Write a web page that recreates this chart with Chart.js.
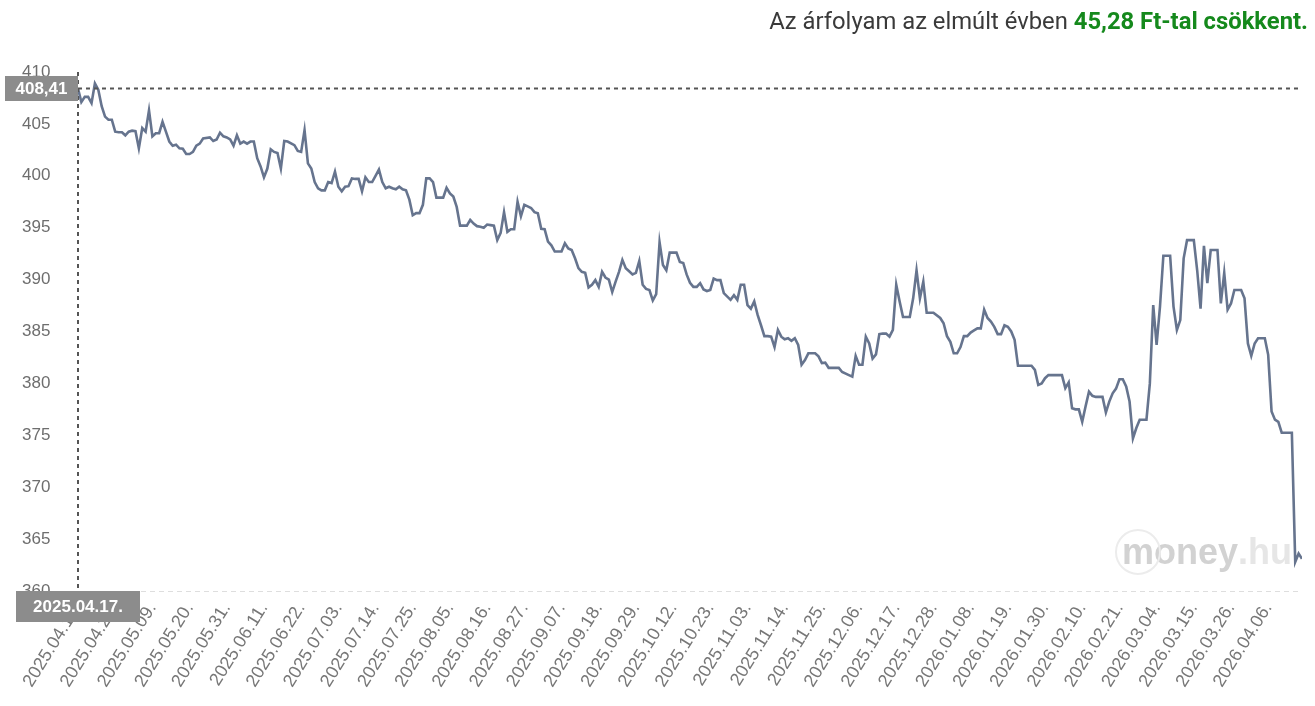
<!DOCTYPE html>
<html>
<head>
<meta charset="utf-8">
<title>Árfolyam az elmúlt évben</title>
<style>
  body { margin: 0; background: #fff; font-family: Roboto, Arial, sans-serif; }
  #wrap { position: relative; width: 1315px; height: 706px; }
  #summary { position: absolute; top: 7px; right: 7px; font-size: 23.8px; color: #3a3a3a; white-space: nowrap; }
  #summary b { color: #15891c; }
  canvas { display: block; }
</style>
</head>
<body>
<div id="wrap">
  <div id="summary">Az árfolyam az elmúlt évben <b>45,28 Ft-tal csökkent.</b></div>
  <canvas id="rateChart" width="1315" height="706"></canvas>
</div>

<script src="https://cdn.jsdelivr.net/npm/chart.js"></script>

<script>
    // day index from 2025.04.17 and the rate
    const days = [
        0, 1, 2, 3, 4, 5, 6, 7, 8, 9, 10, 11, 12, 13, 14, 15, 16, 17, 18, 19,
        20, 21, 22, 23, 24, 25, 26, 27, 28, 29, 30, 31, 32, 33, 34, 35, 36, 37, 39, 40,
        41, 42, 43, 44, 45, 46, 47, 48, 49, 50, 51, 52, 53, 54, 55, 56, 57, 58, 59, 60,
        61, 62, 64, 65, 66, 67, 68, 69, 70, 71, 72, 73, 74, 75, 76, 77, 78, 79, 80, 81,
        82, 83, 84, 85, 86, 87, 88, 89, 90, 91, 92, 93, 94, 95, 96, 97, 98, 99, 100, 101,
        102, 103, 104, 105, 106, 107, 108, 109, 110, 111, 112, 113, 114, 115, 116, 117, 118, 119, 120, 121,
        122, 123, 124, 125, 126, 127, 128, 129, 130, 131, 132, 133, 134, 135, 136, 137, 138, 139, 140, 141,
        142, 143, 144, 145, 146, 147, 148, 149, 150, 151, 152, 153, 154, 155, 156, 157, 158, 159, 160, 161,
        162, 163, 164, 165, 166, 167, 168, 169, 170, 171, 172, 173, 174, 175, 176, 177, 178, 179, 180, 181,
        182, 183, 184, 185, 186, 187, 188, 189, 190, 191, 193, 194, 195, 196, 197, 198, 199, 200, 201, 202,
        203, 204, 205, 206, 207, 208, 209, 210, 211, 212, 213, 214, 215, 216, 217, 218, 219, 220, 221, 222,
        223, 224, 225, 226, 228, 229, 230, 231, 232, 233, 234, 235, 236, 237, 238, 239, 240, 241, 242, 243,
        244, 245, 246, 247, 248, 249, 250, 251, 252, 253, 255, 256, 257, 258, 259, 260, 261, 262, 263, 264,
        265, 266, 267, 268, 269, 270, 271, 272, 273, 274, 275, 276, 277, 278, 279, 280, 281, 282, 283, 284,
        285, 286, 287, 288, 289, 290, 291, 292, 293, 294, 295, 296, 297, 298, 299, 300, 301, 302, 303, 304,
        305, 306, 307, 308, 309, 310, 311, 312, 313, 314, 315, 316, 317, 318, 319, 320, 321, 322, 323, 324,
        325, 326, 327, 328, 329, 330, 331, 332, 333, 334, 335, 336, 337, 338, 339, 340, 341, 342, 343, 344,
        345, 346, 347, 348, 349, 350, 351, 352, 353, 354, 355, 356, 357, 358, 359, 360, 361, 362
    ];

    const rates = [
        408.41, 407.1, 407.6, 407.6, 407.0, 408.9, 408.3, 406.7, 405.7, 405.4, 405.4, 404.25, 404.2, 404.2, 403.9, 404.25, 404.35, 404.3, 402.65, 404.6,
        404.25, 406.3, 403.8, 404.1, 404.1, 405.2, 404.25, 403.3, 402.9, 403.0, 402.65, 402.6, 402.1, 402.1, 402.3, 402.9, 403.1, 403.6, 403.7, 403.35,
        403.5, 404.15, 403.8, 403.7, 403.5, 402.9, 403.9, 403.1, 403.3, 403.1, 403.3, 403.3, 401.7, 400.9, 399.85, 400.7, 402.55, 402.3, 402.2, 400.7,
        403.35, 403.3, 402.95, 402.4, 402.3, 404.4, 401.2, 400.7, 399.4, 398.8, 398.6, 398.6, 399.4, 399.3, 400.4, 398.95, 398.5, 398.95, 399.0, 399.75,
        399.7, 399.7, 398.5, 399.85, 399.4, 399.4, 400.0, 400.6, 399.4, 398.8, 398.95, 398.8, 398.7, 398.95, 398.7, 398.6, 397.7, 396.2, 396.4, 396.4,
        397.2, 399.75, 399.75, 399.4, 397.9, 397.9, 397.9, 398.85, 398.3, 398.0, 397.0, 395.2, 395.2, 395.2, 395.75, 395.4, 395.15, 395.1, 395.0, 395.3,
        395.25, 395.2, 393.8, 394.5, 396.5, 394.6, 394.85, 394.85, 397.5, 396.1, 397.2, 397.05, 396.9, 396.5, 396.4, 394.9, 394.85, 393.65, 393.3, 392.7,
        392.7, 392.7, 393.5, 393.0, 392.85, 392.05, 391.1, 390.75, 390.65, 389.25, 389.5, 389.95, 389.3, 390.75, 390.2, 390.0, 388.8, 389.8, 390.75, 391.9,
        391.1, 390.8, 390.5, 390.65, 391.8, 389.5, 389.1, 389.0, 388.0, 388.6, 393.6, 391.4, 390.9, 392.6, 392.6, 392.6, 391.7, 391.6, 390.5, 389.7,
        389.3, 389.3, 389.65, 389.05, 388.9, 389.0, 390.1, 389.95, 389.95, 388.7, 388.05, 388.5, 388.05, 389.5, 389.5, 387.55, 387.2, 387.9, 386.6, 385.6,
        384.55, 384.55, 384.5, 383.5, 385.15, 384.5, 384.25, 384.35, 384.1, 384.35, 383.7, 381.8, 382.25, 382.9, 382.9, 382.9, 382.6, 381.95, 382.0, 381.5,
        381.5, 381.5, 381.5, 381.1, 380.8, 380.65, 382.65, 381.8, 381.8, 384.5, 383.85, 382.4, 382.8, 384.75, 384.8, 384.8, 384.5, 385.15, 389.5, 387.9,
        386.4, 386.4, 386.4, 388.2, 390.9, 388.2, 389.8, 386.8, 386.8, 386.8, 386.3, 385.8, 384.55, 384.0, 382.9, 382.9, 383.5, 384.55, 384.55, 384.9,
        385.1, 385.3, 385.3, 387.1, 386.3, 385.95, 385.45, 384.75, 384.75, 385.6, 385.45, 385.0, 384.2, 381.7, 381.7, 381.7, 381.7, 381.7, 381.3, 379.85,
        380.0, 380.5, 380.8, 380.8, 380.8, 380.8, 380.8, 379.55, 380.1, 377.6, 377.5, 377.5, 376.3, 377.8, 379.2, 378.8, 378.7, 378.7, 378.7, 377.2,
        378.25, 379.05, 379.5, 380.4, 380.4, 379.7, 378.25, 374.7, 375.7, 376.5, 376.5, 376.5, 380.0, 387.55, 383.7, 387.4, 392.3, 392.3, 392.3, 387.4,
        385.15, 386.1, 392.05, 393.8, 393.8, 393.8, 390.9, 387.2, 393.25, 389.65, 392.85, 392.85, 392.85, 387.7, 390.65, 387.1, 387.7, 389.0, 389.0, 389.0,
        388.2, 383.85, 382.65, 383.85, 384.35, 384.35, 384.35, 382.75, 377.3, 376.5, 376.3, 375.25, 375.25, 375.25, 375.25, 362.8, 363.6, 363.1
    ];

    // one label every 11th day
    const tickLabels = [
        '2025.04.17.', '2025.04.28.', '2025.05.09.', '2025.05.20.', '2025.05.31.', '2025.06.11.',
        '2025.06.22.', '2025.07.03.', '2025.07.14.', '2025.07.25.', '2025.08.05.', '2025.08.16.',
        '2025.08.27.', '2025.09.07.', '2025.09.18.', '2025.09.29.', '2025.10.12.', '2025.10.23.',
        '2025.11.03.', '2025.11.14.', '2025.11.25.', '2025.12.06.', '2025.12.17.', '2025.12.28.',
        '2026.01.08.', '2026.01.19.', '2026.01.30.', '2026.02.10.', '2026.02.21.', '2026.03.04.',
        '2026.03.15.', '2026.03.26.', '2026.04.06.'
    ];
    const yTicks = [360, 365, 370, 375, 380, 385, 390, 395, 400, 405, 410];

    const ctx = document.getElementById('rateChart').getContext('2d');

    // faint money.hu logo behind the line
    const watermark = {
        id: 'watermark',
        beforeDatasetsDraw(chart) {
            const {ctx, chartArea} = chart;
            const right = chartArea.right - 10;
            const base = chartArea.bottom - 27;
            ctx.save();
            ctx.font = 'bold 36px Arial';
            ctx.textAlign = 'right';
            ctx.textBaseline = 'alphabetic';
            ctx.fillStyle = '#e6e6e6';
            ctx.fillText('.hu', right, base);
            const huW = ctx.measureText('.hu').width;
            ctx.fillStyle = '#d2d2d2';
            ctx.fillText('money', right - huW, base);
            const moneyW = ctx.measureText('money').width;
            const mW = ctx.measureText('m').width;
            const cx = right - huW - moneyW + mW / 2;
            ctx.strokeStyle = '#ececec';
            ctx.lineWidth = 2;
            ctx.beginPath();
            ctx.arc(cx, base - 12, 22, 0, Math.PI * 2);
            ctx.stroke();
            ctx.restore();
        }
    };

    // crosshair on the first point with value and date boxes
    const crosshair = {
        id: 'crosshair',
        afterDraw(chart) {
            const {ctx, chartArea, scales} = chart;
            const x = scales.x.getPixelForValue(days[0]);
            const y = scales.y.getPixelForValue(rates[0]);
            ctx.save();
            ctx.strokeStyle = '#555';
            ctx.lineWidth = 2;
            ctx.setLineDash([4, 4]);
            ctx.beginPath();
            ctx.moveTo(x, y);
            ctx.lineTo(chartArea.right, y);
            ctx.moveTo(x, chartArea.top);
            ctx.lineTo(x, chartArea.bottom);
            ctx.stroke();
            ctx.setLineDash([]);

            ctx.font = 'bold 17px Arial';
            ctx.textAlign = 'center';
            ctx.textBaseline = 'middle';
            ctx.fillStyle = '#8c8c8c';
            ctx.fillRect(x - 73, y - 12.5, 73, 25);
            ctx.fillStyle = '#fff';
            ctx.fillText(rates[0].toFixed(2).replace('.', ','), x - 36.5, y + 1);

            ctx.fillStyle = '#8c8c8c';
            ctx.fillRect(x - 62, chartArea.bottom, 124, 31);
            ctx.fillStyle = '#fff';
            ctx.fillText(tickLabels[0], x, chartArea.bottom + 16);
            ctx.restore();
        }
    };

    new Chart(ctx, {
        type: 'line',
        data: {
            datasets: [{
                data: days.map((d, i) => ({x: d, y: rates[i]})),
                borderColor: '#66748e',
                borderWidth: 2.6,
                pointRadius: 0,
                tension: 0,
                fill: false
            }]
        },
        options: {
            responsive: false,
            animation: false,
            layout: {
                padding: {top: 72, right: 13, left: 22, bottom: 0}
            },
            plugins: {
                legend: {display: false},
                tooltip: {enabled: false}
            },
            scales: {
                x: {
                    type: 'linear',
                    min: 0,
                    max: 362,
                    grid: {display: false},
                    border: {display: false},
                    ticks: {
                        stepSize: 11,
                        includeBounds: false,
                        autoSkip: false,
                        minRotation: 58,
                        maxRotation: 58,
                        padding: 0,
                        color: '#777',
                        font: {family: 'Arial', size: 18},
                        callback: v => tickLabels[Math.round(v / 11)]
                    },
                    afterFit: s => { s.height = 115; }
                },
                y: {
                    min: yTicks[0],
                    max: yTicks[yTicks.length - 1],
                    grid: {
                        drawTicks: false,
                        lineWidth: 1,
                        color: c => c.tick && c.tick.value === yTicks[0] ? '#dedede' : 'rgba(0,0,0,0)'
                    },
                    border: {display: false, dash: [5, 4]},
                    ticks: {
                        stepSize: 5,
                        crossAlign: 'far',
                        color: '#6e6e6e',
                        font: {family: 'Arial', size: 17}
                    },
                    afterFit: s => { s.width = 56; }
                }
            }
        },
        plugins: [watermark, crosshair]
    });
</script>
</body>
</html>
